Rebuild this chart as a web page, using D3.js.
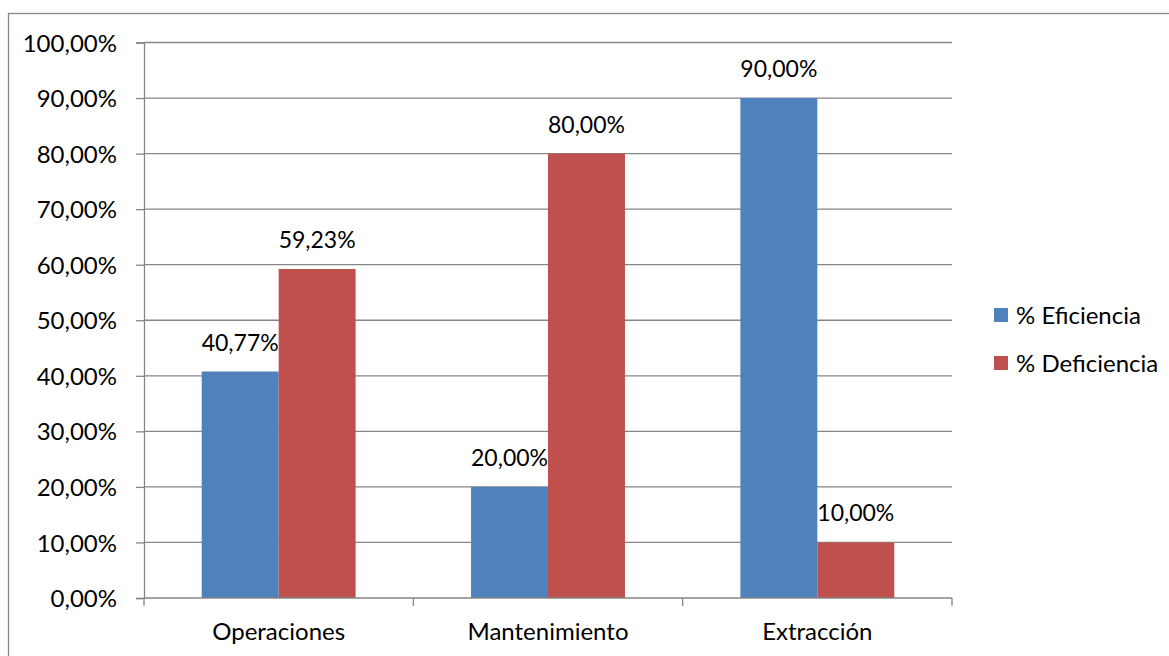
<!DOCTYPE html>
<html>
<head>
<meta charset="utf-8">
<script src="https://cdn.jsdelivr.net/npm/d3@7"></script>
<style>
  body { margin: 0; background: #fff; }
  svg text { font-family: Lato, "Open Sans", sans-serif; fill: #000; }
</style>
</head>
<body>
<div id="chart"></div>
<script>
// data
const categories = ['Operaciones', 'Mantenimiento', 'Extracción'];
const seriesNames = ['% Eficiencia', '% Deficiencia'];
const eficiencia = [40.77, 20.00, 90.00];
const deficiencia = [59.23, 80.00, 10.00];
const yTicks = [0, 10, 20, 30, 40, 50, 60, 70, 80, 90, 100];
const colors = ['#4f81bd', '#c0504d'];

const width = 1169, height = 656;
const margin = {t: 42.5, r: 217, b: 58, l: 144};
const w = width - margin.l - margin.r;
const h = height - margin.t - margin.b;

const fmt = v => v.toFixed(2).replace('.', ',') + '%';

const svg = d3.select('#chart').append('svg')
    .attr('width', width)
    .attr('height', height);

// outer chart border
svg.append('rect')
    .attr('x', 8.5).attr('y', 13.5)
    .attr('width', 1200).attr('height', 700)
    .attr('fill', 'none')
    .attr('stroke', '#868686')
    .attr('stroke-width', 1.3);

const plot = svg.append('g')
    .attr('transform', `translate(${margin.l},${margin.t})`);

// scales
const scaleY = d3.scaleLinear().domain([0, 100]).range([h, 0]);
const scaleX = d3.scaleBand().domain(categories).range([0, w]);
// excel gap width 150%
const scaleSeries = d3.scaleBand().domain(seriesNames)
    .range([0, scaleX.bandwidth()])
    .paddingOuter(0.75).paddingInner(0);

// gridlines
plot.append('g').selectAll('line')
    .data(yTicks.filter(d => d > 0))
    .join('line')
    .attr('x1', 0).attr('x2', w)
    .attr('y1', d => scaleY(d)).attr('y2', d => scaleY(d))
    .attr('stroke', '#868686')
    .attr('stroke-width', 1.3);

// y axis
const axisY = d3.axisLeft(scaleY)
    .tickValues(yTicks)
    .tickSize(8)
    .tickPadding(19)
    .tickFormat(fmt);
const gy = plot.append('g').call(axisY);
gy.select('.domain').attr('stroke', '#868686').attr('stroke-width', 1.3);
gy.selectAll('.tick line').attr('stroke', '#868686').attr('stroke-width', 1.3);
gy.selectAll('.tick text').style('font-size', '24px').attr('dy', '0.36em');

// bars
const rows = categories.map((c, i) => ({cat: c, vals: [eficiencia[i], deficiencia[i]]}));
const groups = plot.append('g').selectAll('g')
    .data(rows)
    .join('g')
    .attr('transform', d => `translate(${scaleX(d.cat)},0)`);

groups.selectAll('rect')
    .data(d => d.vals.map((v, j) => ({name: seriesNames[j], v: v, j: j})))
    .join('rect')
    .attr('x', d => scaleSeries(d.name))
    .attr('y', d => scaleY(d.v))
    .attr('width', scaleSeries.bandwidth())
    .attr('height', d => h - scaleY(d.v))
    .attr('fill', d => colors[d.j]);

// value labels
groups.selectAll('text')
    .data(d => d.vals.map((v, j) => ({name: seriesNames[j], v: v})))
    .join('text')
    .attr('x', d => scaleSeries(d.name) + scaleSeries.bandwidth() / 2)
    .attr('y', d => scaleY(d.v) - 21)
    .attr('text-anchor', 'middle')
    .style('font-size', '23px')
    .text(d => fmt(d.v));

// x axis
const xTicks = d3.range(categories.length + 1).map(i => i * scaleX.step());
const gx = plot.append('g').attr('transform', `translate(0,${h})`);
gx.append('line')
    .attr('x1', 0).attr('x2', w)
    .attr('stroke', '#868686').attr('stroke-width', 1.3);
gx.selectAll('.xtick')
    .data(xTicks)
    .join('line')
    .attr('class', 'xtick')
    .attr('x1', d => d).attr('x2', d => d)
    .attr('y1', 0).attr('y2', 8)
    .attr('stroke', '#868686').attr('stroke-width', 1.3);
gx.selectAll('.xlabel')
    .data(categories)
    .join('text')
    .attr('class', 'xlabel')
    .attr('x', d => scaleX(d) + scaleX.bandwidth() / 2)
    .attr('y', 42)
    .attr('text-anchor', 'middle')
    .style('font-size', '24px')
    .text(d => d);

// legend
const legend = svg.append('g')
    .attr('transform', 'translate(994,308)');
const item = legend.selectAll('g')
    .data(seriesNames)
    .join('g')
    .attr('transform', (d, i) => `translate(0,${i * 48})`);
item.append('rect')
    .attr('width', 14).attr('height', 14)
    .attr('fill', (d, i) => colors[i]);
item.append('text')
    .attr('x', 22).attr('y', 7)
    .attr('dy', '0.36em')
    .style('font-size', '24px')
    .text(d => d);
</script>
</body>
</html>
